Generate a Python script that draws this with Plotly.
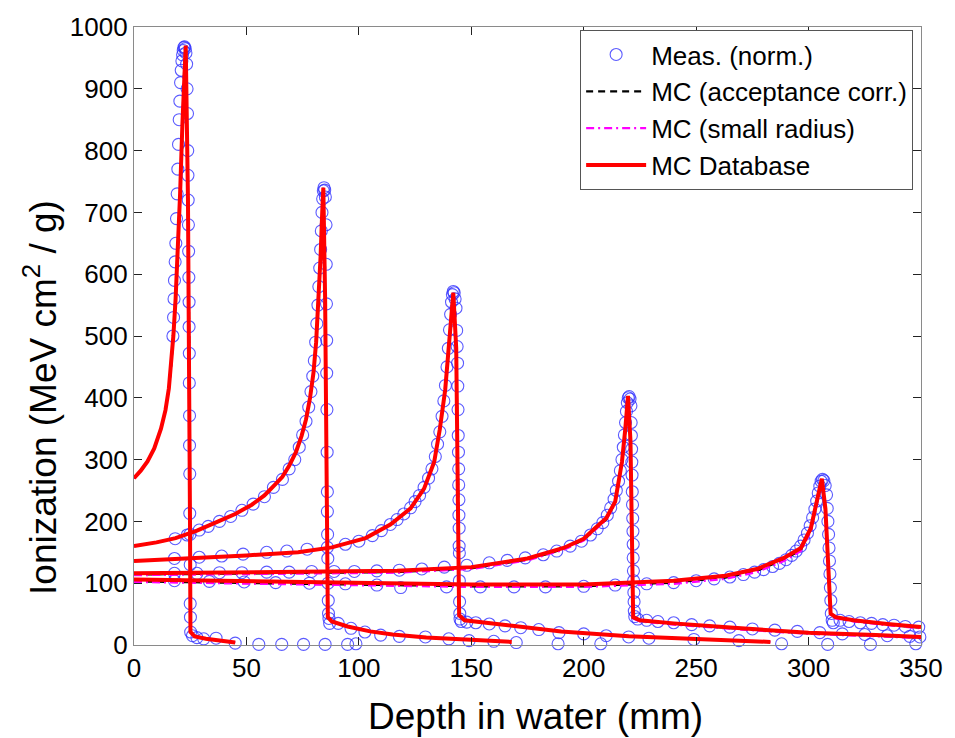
import plotly.graph_objects as go

# ---------------- MC Database (red) curves: depth (mm), ionization ----------------
DB1_X = [0, 3, 6, 9, 12, 14, 15.5, 16.5, 17.5, 18.5, 19.5, 20.5, 21.5, 22.3, 23, 24, 24.6, 24.9, 25.1, 27, 32, 40, 45]
DB1_Y = [270, 282, 297, 318, 350, 380, 415, 450, 500, 560, 640, 730, 840, 930, 970, 720, 480, 200, 21, 14, 10, 6, 4]

DB2_X = [0, 10, 18.5, 28, 37.5, 45, 52.4, 58, 62.6, 66, 69, 72, 74.5, 76.5, 78.3, 79.8, 81, 82, 83, 83.7, 84.2,
         85, 85.8, 86.2, 88, 95, 105, 115, 130, 150, 168]
DB2_Y = [160, 166, 173, 185, 200, 212, 227, 242, 259, 272, 290, 312, 338, 365, 400, 440, 490, 550, 630, 700, 740,
         560, 250, 45, 38, 30, 22, 17, 12, 8, 5]

DB3_X = [0, 25, 50, 73, 88, 103, 114, 123, 129, 133.5, 136, 138.4, 140, 142, 143.3, 144.2, 144.6, 147, 160, 190, 220, 250, 283]
DB3_Y = [136, 140, 145, 150, 158, 173, 195, 221, 253, 296, 349, 413, 483, 570, 480, 250, 48, 40, 35, 22, 14, 10, 5]

DB4_X = [0, 30, 60, 90, 117, 150, 175, 191, 200, 205, 210, 214, 217, 218.5, 219.7, 220.8, 221.6, 222, 225, 240, 270, 300, 330, 350]
DB4_Y = [116, 117, 118, 119, 120, 126, 140, 157, 172, 189, 205, 232, 296, 350, 403, 330, 150, 45, 40, 35, 27, 20, 16, 13]

DB5_X = [0, 50, 100, 150, 200, 240, 263, 277, 289, 296.6, 301, 303.7, 305.9, 307.5, 309, 309.8, 312, 320, 335, 350]
DB5_Y = [106, 103, 100, 98, 98, 104, 112, 123, 141, 157, 189, 232, 269, 220, 120, 51, 45, 40, 34, 29]

# ---------------- MC (acceptance corr.) black dashed: differs visibly on curves 4, 5 ----------------
ACC4_Y = [114, 115, 116, 117, 118, 124, 138, 155, 170, 187, 203, 230, 293, 347, 400, 327, 148, 44, 39, 34, 26, 19, 15, 12]
ACC5_Y = [103, 100, 97, 95, 95, 101, 109, 120, 138, 154, 186, 228, 265, 215, 118, 50, 44, 39, 33, 28]

# ---------------- MC (small radius) magenta dash-dot ----------------
SR4_Y = [113, 114, 115, 116, 117, 123, 137, 154, 169, 186, 202, 229, 292, 346, 398, 325, 147, 43, 38, 33, 25, 18, 14, 11]
SR5_Y = [102, 99, 96, 94, 94, 99, 107, 118, 136, 152, 184, 226, 263, 212, 116, 49, 43, 38, 32, 27]

# ---------------- Measurements (normalised): (depth mm, ionization) ----------------
M1 = [(17.3, 500), (17.6, 530), (17.8, 560), (18.0, 590), (18.3, 620), (18.6, 650), (18.9, 690),
      (19.2, 730), (19.5, 770), (19.8, 810), (20.1, 850), (20.4, 880), (20.7, 910), (21.0, 930),
      (21.3, 945), (21.6, 955), (21.9, 962), (22.2, 967), (22.5, 968), (22.8, 965), (23.1, 958),
      (23.4, 940), (23.6, 900), (23.8, 860), (23.9, 800), (24.0, 760), (24.1, 720), (24.2, 680),
      (24.3, 637), (24.4, 595), (24.5, 555), (24.5, 515), (24.6, 472), (24.6, 424), (24.7, 371),
      (24.7, 323), (24.8, 277), (24.8, 213), (24.9, 179), (25.0, 130), (25.0, 67), (25.1, 45),
      (25.2, 21), (26, 15), (28, 12), (31, 10), (36.5, 11), (45, 3), (55.5, 1), (65.7, 1),
      (75.4, 1), (85, 1), (95, 1), (98.7, 2)]

M2 = [(18.3, 172), (23.7, 178), (29, 186), (33, 192), (38, 200), (43, 208), (48, 218), (53, 228),
      (58, 240), (62, 255), (66, 268), (69, 285), (71.5, 300), (73.5, 320), (75, 340), (76.5, 362),
      (77.7, 385), (78.7, 410), (79.5, 435), (80.2, 460), (80.8, 490), (81.3, 520), (81.8, 550),
      (82.2, 580), (82.6, 610), (83, 640), (83.3, 670), (83.6, 700), (83.9, 722), (84.2, 735),
      (84.5, 740), (84.8, 736), (85.1, 725), (85.4, 680), (85.5, 616), (85.6, 552), (85.7, 493),
      (85.7, 440), (85.8, 381), (85.9, 312), (86, 248), (86, 216), (86.1, 179), (86.2, 140),
      (86.3, 100), (86.4, 72), (86.5, 51), (86.7, 43), (87, 35), (90.8, 35), (96.5, 27),
      (102.7, 21), (109.7, 16), (118, 14), (129.6, 13), (140, 10), (149, 7), (160, 6), (170, 4),
      (188.6, 2), (207.6, 2)]

M3 = [(18, 140), (29, 142), (39, 144), (48.5, 147), (59, 150), (68, 152), (77, 155), (86, 158),
      (94, 163), (100, 168), (106, 177), (110, 185), (114, 195), (117, 203), (120, 212), (123, 222),
      (125, 232), (127, 242), (129, 255), (131, 270), (132.5, 285), (134, 305), (135, 325),
      (136, 345), (137, 370), (137.8, 395), (138.5, 420), (139.2, 450), (139.8, 480), (140.3, 510),
      (140.8, 535), (141.2, 555), (141.6, 567), (142, 572), (142.4, 570), (142.8, 560),
      (143.2, 545), (143.5, 509), (143.7, 483), (143.9, 456), (144, 419), (144.1, 381),
      (144.2, 339), (144.3, 312), (144.4, 285), (144.4, 259), (144.5, 235), (144.5, 210),
      (144.6, 189), (144.6, 160), (144.7, 149), (144.7, 104), (144.8, 70), (144.9, 51), (145, 42),
      (145.5, 38), (148, 37), (152, 36), (158, 34), (165, 31), (172, 28), (180, 25), (189, 20),
      (200, 18), (210, 15), (220, 13), (229, 11), (249, 9), (269, 7), (288, 2), (308.5, 1),
      (327.5, 1), (347.7, 2)]

M4 = [(18, 116), (28, 116), (38, 117), (48, 117), (59, 118), (69, 118), (79, 119), (89, 119),
      (98, 119), (108, 120), (118, 121), (128, 123), (138, 126), (148, 129), (158, 133), (166, 137),
      (174, 141), (182, 146), (188, 152), (194, 160), (199, 168), (203, 178), (206, 188),
      (208.5, 198), (210.5, 210), (212, 222), (213.5, 236), (214.5, 250), (215.5, 265),
      (216.3, 282), (217, 300), (217.6, 320), (218.1, 340), (218.6, 360), (219, 378), (219.4, 392),
      (219.8, 400), (220.2, 402), (220.6, 398), (221, 387), (221.1, 360), (221.2, 339),
      (221.3, 317), (221.4, 296), (221.5, 275), (221.6, 248), (221.7, 227), (221.8, 205),
      (221.9, 184), (222, 163), (222, 141), (222.1, 120), (222.2, 104), (222.3, 85), (222.4, 70),
      (222.5, 55), (222.7, 46), (224, 42), (228, 40), (233, 38), (240, 36), (248, 33), (256, 31),
      (265, 29), (275, 26), (285, 24), (295, 22), (305, 20), (315, 18), (325, 17), (335, 15),
      (345, 14), (349.5, 13)]

M5 = [(18, 104), (33.5, 103), (49, 102), (63, 101), (78, 100), (94, 99), (108, 97), (118.6, 93),
      (139, 94), (154, 94), (169, 94), (183, 94), (200, 95), (214, 97), (228, 99), (240, 101),
      (250, 104), (258, 107), (265, 110), (271, 114), (276, 118), (280, 122), (284, 127),
      (287, 132), (290, 138), (292.5, 145), (294.5, 152), (296.5, 160), (298, 170), (299.5, 181),
      (300.7, 193), (301.8, 206), (302.8, 220), (303.6, 233), (304.3, 246), (305, 257),
      (305.6, 265), (306.2, 268), (306.8, 266), (307.4, 258), (308, 243), (308.3, 221),
      (308.6, 200), (308.9, 179), (309.1, 157), (309.3, 136), (309.5, 115), (309.7, 93),
      (309.9, 72), (310.1, 51), (310.5, 40), (311, 36), (314, 40), (318, 38), (323, 36),
      (328, 35), (333, 33), (338, 32), (343, 30), (349, 29)]

X_TICKS = [0, 50, 100, 150, 200, 250, 300, 350]
Y_TICKS = [0, 100, 200, 300, 400, 500, 600, 700, 800, 900, 1000]

LEGEND_NAMES = ["Meas. (norm.)", "MC (acceptance corr.)", "MC (small radius)", "MC Database"]
X_TITLE = "Depth in water (mm)"
Y_TITLE = "Ionization (MeV cm<sup>2</sup> / g)"


def join(*parts):
    out = []
    for p in parts:
        out += list(p) + [None]
    return out[:-1]


FONT = "Liberation Sans, Arial, sans-serif"

meas = M1 + M2 + M3 + M4 + M5
mx = [p[0] for p in meas]
my = [p[1] for p in meas]

fig = go.Figure()
fig.add_trace(go.Scatter(
    x=mx, y=my, mode="markers", name=LEGEND_NAMES[0], cliponaxis=False,
    marker=dict(symbol="circle-open", size=12, color="rgba(50,50,255,0.8)",
                line=dict(width=1.1, color="rgba(50,50,255,0.8)"))))

line_x = join(DB1_X, DB2_X, DB3_X, DB4_X, DB5_X)
fig.add_trace(go.Scatter(
    x=line_x, y=join(DB1_Y, DB2_Y, DB3_Y, ACC4_Y, ACC5_Y), mode="lines", name=LEGEND_NAMES[1],
    line=dict(color="black", width=2.2, dash="7px,5px")))
fig.add_trace(go.Scatter(
    x=line_x, y=join(DB1_Y, DB2_Y, DB3_Y, SR4_Y, SR5_Y), mode="lines", name=LEGEND_NAMES[2],
    line=dict(color="#ff00ff", width=2.2, dash="8px,4px,2px,4px")))
fig.add_trace(go.Scatter(
    x=line_x, y=join(DB1_Y, DB2_Y, DB3_Y, DB4_Y, DB5_Y), mode="lines", name=LEGEND_NAMES[3],
    line=dict(color="#ff0000", width=4)))

axis_common = dict(showline=True, linecolor="#8a8a8a", linewidth=1.2, mirror="allticks",
                   ticks="inside", ticklen=8, tickcolor="#222", tickwidth=1.2,
                   showgrid=False, zeroline=False,
                   tickfont=dict(family=FONT, size=26, color="black"))

fig.update_layout(
    width=955, height=738,
    margin=dict(l=134, r=27, t=20, b=93),
    paper_bgcolor="white", plot_bgcolor="white",
    font=dict(family=FONT, color="black"),
    xaxis=dict(range=[0, 350], tickvals=X_TICKS, **axis_common),
    yaxis=dict(range=[0, 1000], tickvals=Y_TICKS, **axis_common),
    legend=dict(x=0.99, y=0.995, xanchor="right", yanchor="top",
                bgcolor="white", bordercolor="#555", borderwidth=1,
                font=dict(family=FONT, size=26, color="black"),
                itemwidth=60, tracegroupgap=3, traceorder="normal"),
    annotations=[
        dict(text=X_TITLE, xref="paper", yref="paper", x=0.51, y=-0.115,
             xanchor="center", yanchor="middle", showarrow=False,
             font=dict(family=FONT, size=37, color="black")),
        dict(text=Y_TITLE, xref="paper", yref="paper", x=-0.118, y=0.40,
             xanchor="center", yanchor="middle", textangle=-90, showarrow=False,
             font=dict(family=FONT, size=37, color="black")),
    ],
)

fig.write_html("out.html")
